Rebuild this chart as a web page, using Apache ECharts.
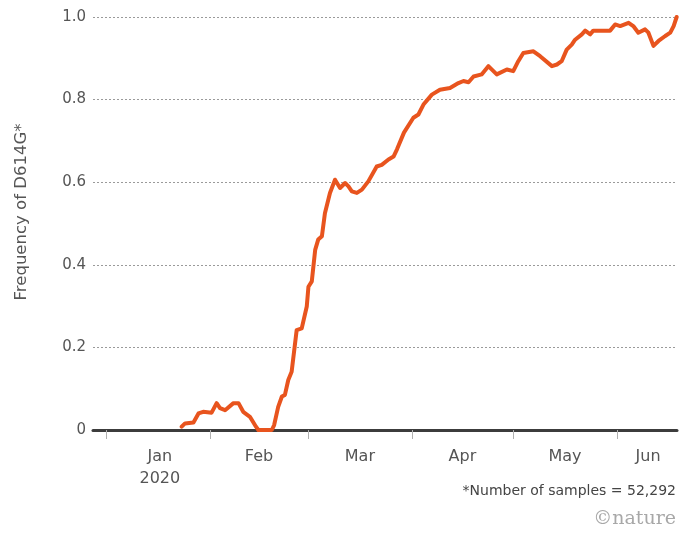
<!DOCTYPE html>
<html>
<head>
<meta charset="utf-8">
<script src="https://cdn.jsdelivr.net/npm/echarts@6/dist/echarts.min.js"></script>
<style>
html,body{margin:0;padding:0;background:#fff;}
#chart{width:679px;height:534px;}
</style>
</head>
<body>
<div id="chart"></div>
<script>
// x = days since 1 Jan 2020 (0 = Jan 1)
const dayOfYear = [22.5, 23.5, 26.0, 27.5, 28.9, 31.4, 32.9, 33.9, 35.4, 37.9, 39.4, 40.8, 42.8, 44.6, 45.3, 49.3,
  50.0, 51.2, 52.3, 53.2, 54.2, 55.2, 56.7, 58.2, 59.7, 60.2, 61.2, 62.2, 63.1, 64.2, 65.1, 66.6, 68.1, 69.6, 71.1,
  72.1, 73.1, 74.6, 76.1, 78.0, 80.5, 82.0, 84.0, 85.5, 86.5, 88.6, 91.4, 92.9, 94.4, 96.9, 99.3, 102.3, 104.8,
  106.3, 107.8, 109.3, 111.7, 113.7, 116.2, 119.2, 121.1, 122.6, 124.1, 127.1, 127.6, 129.1, 132.6, 134.1, 135.5,
  137.0, 138.5, 139.5, 141.5, 142.5, 144.0, 144.9, 149.9, 151.4, 152.9, 155.4, 156.8, 158.3, 160.3, 161.3, 162.8,
  164.3, 166.3, 167.8, 168.8, 169.7];
const frequency = [0.008, 0.016, 0.018, 0.040, 0.044, 0.042, 0.065, 0.053, 0.048, 0.065, 0.065, 0.044, 0.032, 0.008, 0.0, 0.0,
  0.012, 0.056, 0.081, 0.085, 0.121, 0.141, 0.242, 0.246, 0.299, 0.347, 0.360, 0.436, 0.461, 0.469, 0.525, 0.574, 0.606, 0.586, 0.598,
  0.590, 0.578, 0.574, 0.582, 0.602, 0.638, 0.642, 0.655, 0.662, 0.679, 0.720, 0.756, 0.764, 0.788, 0.812, 0.824, 0.828, 0.840,
  0.845, 0.842, 0.856, 0.861, 0.881, 0.861, 0.873, 0.869, 0.893, 0.913, 0.917, 0.921, 0.905, 0.881, 0.885, 0.893,
  0.921, 0.933, 0.945, 0.958, 0.967, 0.958, 0.967, 0.967, 0.982, 0.978, 0.986, 0.978, 0.962, 0.970, 0.962, 0.930,
  0.942, 0.954, 0.962, 0.978, 1.0];
const monthStartDays = [0, 31, 60, 91, 121, 152];
const monthLabelDays = [16, 45.5, 75.5, 106, 136.5, 161.2];
const monthLabels = ['Jan\n2020', 'Feb', 'Mar', 'Apr', 'May', 'Jun'];
const yTicks = [0, 0.2, 0.4, 0.6, 0.8, 1.0];

const FONT = 'DejaVu Sans';
const chart = echarts.init(document.getElementById('chart'), null, {renderer: 'canvas'});
const seriesData = dayOfYear.map((d, i) => [d, frequency[i]]);

chart.setOption({
  animation: false,
  backgroundColor: '#fff',
  grid: {left: 93, right: 2, top: 17, bottom: 104, containLabel: false},
  xAxis: {
    type: 'value',
    min: -3.87,
    max: 169.8,
    axisLine: {show: true, onZero: false, lineStyle: {color: '#3c3c3c', width: 3}},
    axisTick: {show: true, customValues: monthStartDays, length: 9, lineStyle: {color: '#b0b0b0', width: 1}},
    axisLabel: {
      customValues: monthLabelDays,
      margin: 16,
      color: '#555',
      fontFamily: FONT,
      fontSize: 16,
      lineHeight: 22,
      formatter: function (v) {
        let best = 0;
        for (let i = 0; i < monthLabelDays.length; i++) {
          if (Math.abs(monthLabelDays[i] - v) < Math.abs(monthLabelDays[best] - v)) best = i;
        }
        return monthLabels[best];
      }
    },
    splitLine: {show: false}
  },
  yAxis: {
    type: 'value',
    min: 0,
    max: 1,
    interval: 0.2,
    axisLine: {show: false},
    axisTick: {show: false},
    axisLabel: {
      margin: 7,
      color: '#555',
      fontFamily: FONT,
      fontSize: 15,
      formatter: function (v) { return v === 0 ? '0' : v.toFixed(1); }
    },
    splitLine: {show: true, lineStyle: {color: '#9a9a9a', type: [2, 2], width: 1}}
  },
  series: [{
    type: 'line',
    data: seriesData,
    showSymbol: false,
    symbol: 'none',
    lineStyle: {color: '#E8541E', width: 4, cap: 'round', join: 'round'},
    z: 5
  }],
  graphic: [
    {
      type: 'text',
      x: 22, y: 212,
      rotation: Math.PI / 2,
      style: {text: 'Frequency of D614G*', fill: '#555', font: '16.5px "DejaVu Sans"', textAlign: 'center', textVerticalAlign: 'middle'}
    },
    {
      type: 'text',
      right: 3, top: 484,
      style: {text: '*Number of samples = 52,292', fill: '#444', font: '14px "DejaVu Sans"'}
    },
    {
      type: 'text',
      right: 3, top: 510,
      style: {text: '\u00A9nature', fill: '#a8a8a8', font: '19px "DejaVu Serif"'}
    }
  ]
});
</script>
</body>
</html>
